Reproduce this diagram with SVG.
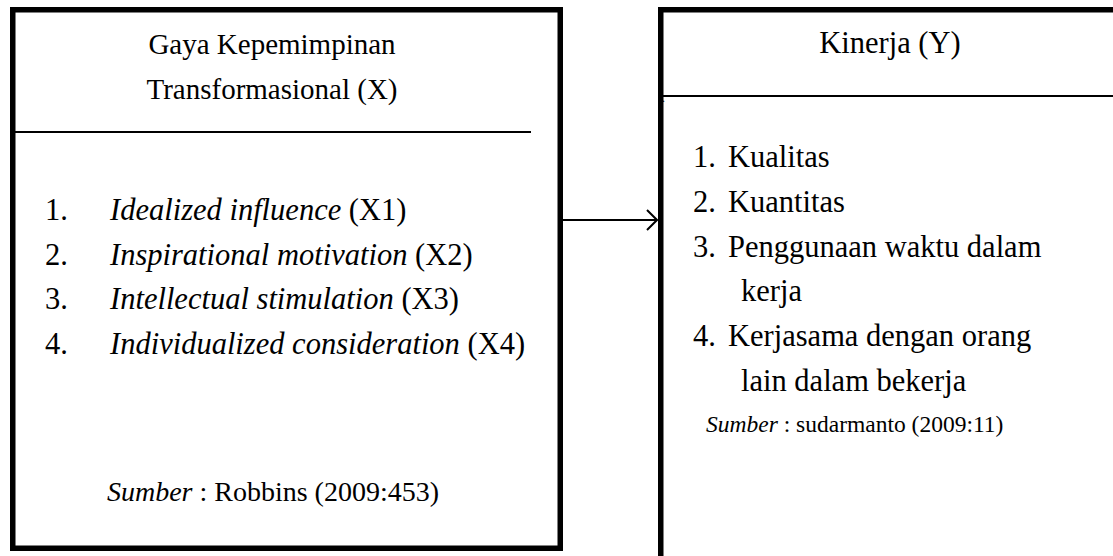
<svg xmlns="http://www.w3.org/2000/svg" width="1113" height="556" viewBox="0 0 1113 556">
<defs>
<style>
.t{font-family:"Liberation Serif","Times New Roman",serif;font-size:30.5px;fill:#000}
.h{font-size:29px}
.i{font-style:italic}
.s{font-size:23.5px}
.sl{font-size:28px}
.box{fill:#fff;stroke:#000;stroke-width:5.5}
.div{stroke:#000;stroke-width:2;fill:none}
</style>
<marker id="ah" viewBox="0 0 12 22" refX="11" refY="11" markerWidth="12" markerHeight="22" markerUnits="userSpaceOnUse" orient="auto">
<path d="M1,1 L11,11 L1,21" fill="none" stroke="#000" stroke-width="2"/>
</marker>
</defs>
<rect width="1113" height="556" fill="#fff"/>
<g id="node-x">
<rect class="box" x="12.75" y="9.75" width="547.5" height="538.5"/>
<line class="div" x1="15" y1="132" x2="531" y2="132"/>
<text class="t h" x="272" y="54" text-anchor="middle">Gaya Kepemimpinan</text>
<text class="t h" x="272" y="99" text-anchor="middle">Transformasional (X)</text>
<text class="t" x="45" y="220">1.</text><text class="t" x="110" y="220"><tspan class="i">Idealized influence</tspan> (X1)</text>
<text class="t" x="45" y="265">2.</text><text class="t" x="110" y="265"><tspan class="i">Inspirational motivation</tspan> (X2)</text>
<text class="t" x="45" y="309">3.</text><text class="t" x="110" y="309"><tspan class="i">Intellectual stimulation</tspan> (X3)</text>
<text class="t" x="45" y="354">4.</text><text class="t" x="110" y="354"><tspan class="i">Individualized consideration</tspan> (X4)</text>
<text class="t sl" x="273" y="501" text-anchor="middle"><tspan class="i">Sumber</tspan> : Robbins (2009:453)</text>
</g>
<g id="node-y">
<path d="M660.75,556 V9.75 H1113" fill="none" stroke="#000" stroke-width="5.5"/>
<line class="div" x1="663" y1="96" x2="1113" y2="96"/>
<text class="t" x="662" y="102" style="font-size:12px">.</text>
<text class="t" x="890" y="53" text-anchor="middle">Kinerja (Y)</text>
<text class="t" x="693" y="167">1.</text><text class="t" x="728" y="167">Kualitas</text>
<text class="t" x="693" y="212">2.</text><text class="t" x="728" y="212">Kuantitas</text>
<text class="t" x="693" y="257">3.</text><text class="t" x="728" y="257">Penggunaan waktu dalam</text>
<text class="t" x="741" y="301">kerja</text>
<text class="t" x="693" y="346">4.</text><text class="t" x="728" y="346">Kerjasama dengan orang</text>
<text class="t" x="741" y="391">lain dalam bekerja</text>
<text class="t s" x="706" y="432"><tspan class="i">Sumber</tspan> : sudarmanto (2009:11)</text>
</g>
<g id="connectors">
<line x1="563" y1="220" x2="657" y2="220" stroke="#000" stroke-width="2" marker-end="url(#ah)"/>
</g>
</svg>
